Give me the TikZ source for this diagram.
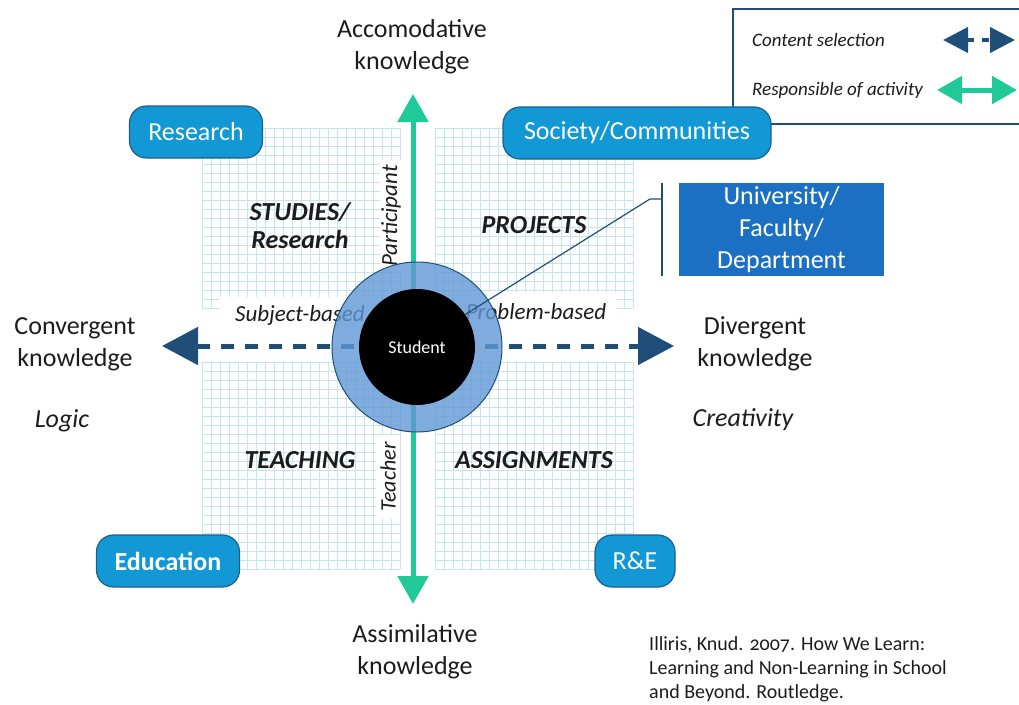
\documentclass[tikz,border=0pt]{standalone}
\usepackage{fontspec}
\setmainfont{Carlito}
\usetikzlibrary{arrows.meta,positioning}
\definecolor{navy}{RGB}{31,78,121}
\definecolor{actgreen}{RGB}{32,201,152}
\definecolor{boxblue}{RGB}{18,152,212}
\definecolor{boxedge}{RGB}{28,96,140}
\definecolor{unifill}{RGB}{28,112,196}
\definecolor{ringblue}{RGB}{96,152,214}
\definecolor{gridblue}{RGB}{196,228,238}
\definecolor{ink}{RGB}{28,28,28}

\begin{document}
\begin{tikzpicture}[x=1pt,y=-1pt,
  every node/.style={font=\fontsize{26}{32}\selectfont,align=center,inner sep=0pt,text=ink},
  tag/.style={draw=boxedge,line width=1.2pt,fill=boxblue,rounded corners=17pt,text=white,minimum height=52pt},
  quad/.style={font=\fontsize{26}{28}\selectfont\bfseries\itshape},
  side/.style={font=\fontsize{23}{26}\selectfont\itshape,fill=white},
  legtxt/.style={anchor=west,font=\fontsize{19}{22}\selectfont\itshape},
  gl/.style={draw=gridblue,line width=0.5pt}]
\useasboundingbox (0,0) rectangle (1019,704);
\clip (0,0) rectangle (1019,704);

% squared paper behind the four quadrants
\foreach \qx/\qy/\qh in {202/128/180,435/128/180,202/362/207,435/362/207}{
  \foreach \i in {0,9,...,198} \draw[gl] (\qx+\i,\qy) -- (\qx+\i,\qy+\qh);
  \foreach \j in {0,9,...,\qh} \draw[gl] (\qx,\qy+\j) -- (\qx+198,\qy+\j);
}

% labels along the axes
\node[side,minimum width=160pt,minimum height=36pt] (subj) at (300,315) {Subject-based};
\node[side,minimum width=162pt,minimum height=40pt] (prob) at (536,312) {Problem-based};
\node[side,rotate=90,minimum width=112pt,minimum height=22pt] (part) at (391,216) {Participant};
\node[side,rotate=90,minimum width=84pt,minimum height=24pt,font=\fontsize{22}{26}\selectfont\itshape] (tch) at (388,477) {Teacher};

% axes
\coordinate (top) at (413,94);
\coordinate (bot) at (413,604);
\coordinate (lft) at (162,346);
\coordinate (rgt) at (674,346);
\draw[actgreen,line width=5pt,{Triangle[width=30pt,length=28pt]}-{Triangle[width=30pt,length=28pt]}] (bot) -- (top);
\draw[navy,line width=5pt,dash pattern=on 13pt off 11pt,{Triangle[width=37pt,length=36pt]}-{Triangle[width=37pt,length=36pt]}] (lft) -- (rgt);

\node[quad] (stud) at (300,226) {STUDIES/\\Research};
\node[quad] (proj) at (534,225) {PROJECTS};
\node[quad] (teach) at (300,460) {TEACHING};
\node[quad] (assign) at (534,460) {ASSIGNMENTS};

% student in the middle
\node[circle,draw=navy,line width=1pt,fill=ringblue,fill opacity=0.8,minimum size=170pt] (ring) at (417,347) {};
\node[circle,fill=black,minimum size=116pt,text=white,font=\fontsize{18}{20}\selectfont] (stu) at (417,347) {Student};

% university callout
\node[fill=unifill,text=white,minimum width=205pt,minimum height=93pt] (uni) at (781.5,229.5) {University/\\Faculty/\\Department};
\coordinate (bt) at (662,183);
\coordinate (bb) at (662,276);
\coordinate (bk) at (662,199);
\draw[navy,line width=2pt] (bt) -- (bb);
\draw[navy,line width=1.2pt] (stu.34) -- (650,199) -- (bk);

% legend
\draw[navy,line width=1.5pt,fill=white] (733,9) rectangle (1040,124);
\node[legtxt] (cs) at (752,40) {Content selection};
\node[legtxt] (ra) at (752,90) {Responsible of activity};
\coordinate (csl) at (943,40);
\coordinate (csr) at (1015,40);
\coordinate (ral) at (937,90);
\coordinate (rar) at (1017,90);
\draw[navy,line width=4pt,dash pattern=on 7pt off 8pt,{Triangle[width=25pt,length=25pt]}-{Triangle[width=25pt,length=25pt]}] (csl) -- (csr);
\draw[actgreen,line width=5pt,{Triangle[width=27pt,length=25pt]}-{Triangle[width=27pt,length=25pt]}] (ral) -- (rar);

% rounded tags
\node[tag,minimum width=133pt] (res) at (196,132) {Research};
\node[tag,minimum width=268pt] (soc) at (637,133) {Society/Communities};
\node[tag,minimum width=143pt,font=\fontsize{26}{32}\selectfont\bfseries] (edu) at (168,561) {Education};
\node[tag,minimum width=80pt] (re) at (635,561) {R\&E};

% knowledge types
\node (acc) at (412,47) {Accomodative\\knowledge};
\node (ass) at (415,652) {Assimilative\\knowledge};
\node (conv) at (75,344) {Convergent\\knowledge};
\node (div) at (755,344) {Divergent\\knowledge};
\node[font=\fontsize{26}{32}\selectfont\itshape] (lg) at (62,421) {Logic};
\node[font=\fontsize{26}{32}\selectfont\itshape] (cre) at (743,420) {Creativity};

\node[anchor=north west,align=left,font=\fontsize{20}{24}\selectfont\addfontfeatures{Numbers=OldStyle}] (src) at (649,636)
  {Illiris, Knud. 2007. How We Learn:\\Learning and Non-Learning in School\\and Beyond. Routledge.};
\end{tikzpicture}
\end{document}
